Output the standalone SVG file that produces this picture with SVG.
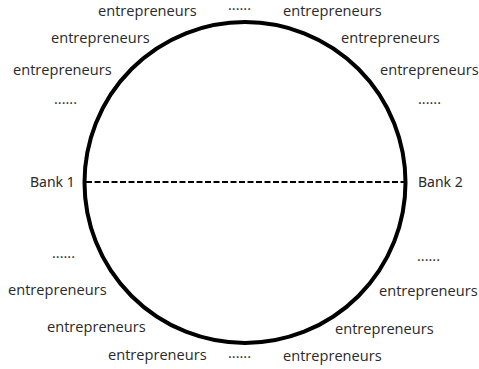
<svg xmlns="http://www.w3.org/2000/svg" width="479" height="369" viewBox="0 0 479 369">
<style>
.e{font-family:"Open Sans","Liberation Sans",sans-serif;font-size:14.6px;fill:#2a2a2a}
.b{font-family:"Noto Sans","Liberation Sans",sans-serif;font-size:14px;fill:#2a2a2a}
</style>
<rect width="479" height="369" fill="#fff"/>
<g id="connectors">
<line x1="86" y1="182" x2="404" y2="182" stroke="#000" stroke-width="2" stroke-dasharray="6 2.5"/>
</g>
<g id="circle"><circle cx="245" cy="182.5" r="160.5" fill="none" stroke="#000" stroke-width="4"/></g>
<g id="bank1"><text class="b" x="30" y="187">Bank 1</text></g>
<g id="bank2"><text class="b" x="418" y="187">Bank 2</text></g>
<g id="entrepreneurs">
<text class="e" x="98" y="16">entrepreneurs</text>
<text class="e" x="51" y="43">entrepreneurs</text>
<text class="e" x="13" y="75">entrepreneurs</text>
<text class="e" x="54" y="104">......</text>
<text class="e" x="228" y="9.5">......</text>
<text class="e" x="283" y="16">entrepreneurs</text>
<text class="e" x="341" y="43">entrepreneurs</text>
<text class="e" x="380" y="75">entrepreneurs</text>
<text class="e" x="418" y="104">......</text>
<text class="e" x="52" y="258">......</text>
<text class="e" x="8" y="295">entrepreneurs</text>
<text class="e" x="47" y="332">entrepreneurs</text>
<text class="e" x="108" y="360">entrepreneurs</text>
<text class="e" x="228" y="358">......</text>
<text class="e" x="417" y="261">......</text>
<text class="e" x="379" y="296">entrepreneurs</text>
<text class="e" x="335" y="334">entrepreneurs</text>
<text class="e" x="283" y="361">entrepreneurs</text>
</g>
</svg>
